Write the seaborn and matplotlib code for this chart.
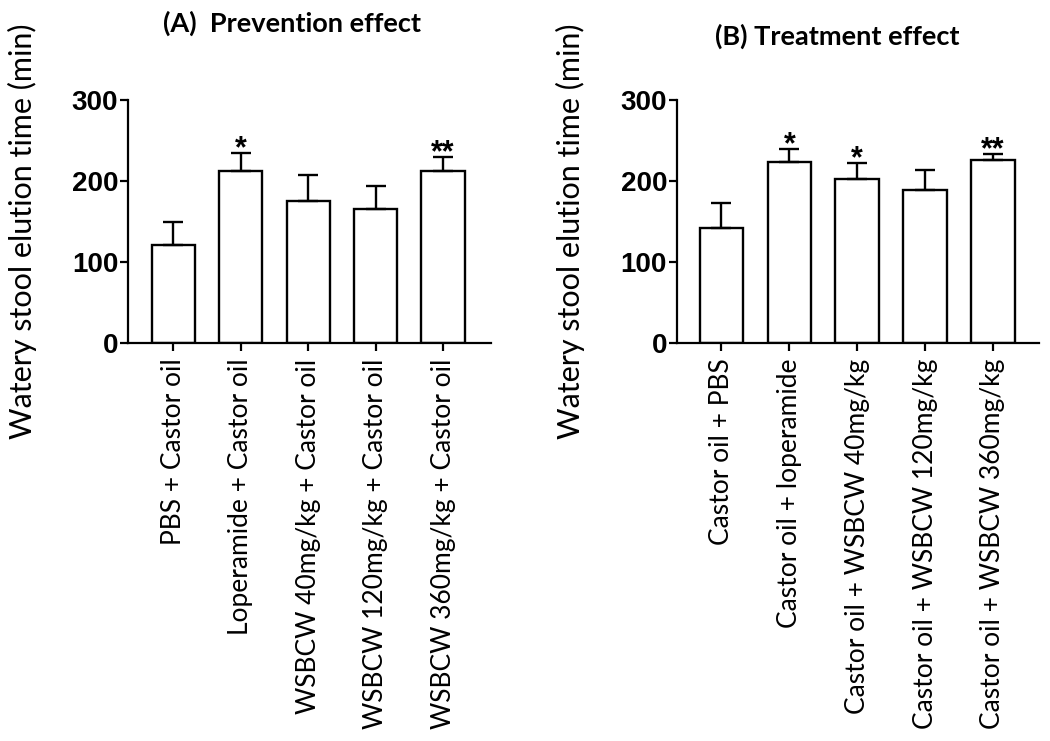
import matplotlib
matplotlib.use('Agg')
import matplotlib.pyplot as plt
import seaborn as sns
import pandas as pd
import numpy as np

# 数据
prev_labels = ['PBS + Castor oil', 'Loperamide + Castor oil', 'WSBCW 40mg/kg + Castor oil',
               'WSBCW 120mg/kg + Castor oil', 'WSBCW 360mg/kg + Castor oil']
prev_means = [121, 212, 176, 165, 213]
prev_err = [29, 22, 31, 29, 17]
prev_stars = ['', '*', '', '', '**']

treat_labels = ['Castor oil + PBS', 'Castor oil + loperamide', 'Castor oil + WSBCW 40mg/kg',
                'Castor oil + WSBCW 120mg/kg', 'Castor oil + WSBCW 360mg/kg']
treat_means = [142, 224, 203, 189, 226]
treat_err = [31, 15, 19, 25, 7]
treat_stars = ['', '*', '*', '', '**']

ylabel = 'Watery stool elution time (min)'

sns.set_style('ticks')
plt.rcParams['font.family'] = ['Lato', 'DejaVu Sans']
plt.rcParams['text.color'] = 'black'
plt.rcParams['xtick.color'] = 'black'
plt.rcParams['ytick.color'] = 'black'
plt.rcParams['axes.labelcolor'] = 'black'

fig = plt.figure(figsize=(10.5, 7.41), dpi=100)
ax_a = fig.add_axes([0.1219, 0.5367, 0.3457, 0.3284])
ax_b = fig.add_axes([0.6445, 0.5367, 0.3450, 0.3284])


def draw_panel(ax, labels, means, errs, stars, xlim):
    df = pd.DataFrame({'group': labels, 'value': means})
    sns.barplot(data=df, x='group', y='value', ax=ax, color='white',
                edgecolor='black', linewidth=1.7, width=0.64, errorbar=None)
    xs = np.arange(len(labels))
    ax.errorbar(xs, means, yerr=[np.zeros(len(errs)), errs], fmt='none',
                ecolor='black', elinewidth=1.7, capsize=7.5, capthick=1.7, zorder=1)
    for x, m, e, s in zip(xs, means, errs, stars):
        if s:
            ax.annotate(s, (x, m + e), xytext=(0, -3), textcoords='offset points',
                        ha='center', va='baseline', fontsize=22, fontweight='bold',
                        family='Liberation Sans')
    ax.set_ylim(0, 300)
    ax.set_xlim(*xlim)
    ax.set_yticks([0, 100, 200, 300])
    ax.set_xlabel('')
    ax.set_ylabel('')
    sns.despine(ax=ax)
    for sp in ['left', 'bottom']:
        ax.spines[sp].set_linewidth(1.6)
        ax.spines[sp].set_color('black')
    ax.tick_params(axis='both', width=1.6, length=6, color='black')
    ax.tick_params(axis='y', pad=1)
    ax.tick_params(axis='x', pad=5)
    ax.set_xticks(xs)
    ax.set_xticklabels(labels, rotation=90, fontsize=19, family='Lato')
    for t in ax.get_yticklabels():
        t.set_fontsize(20)
        t.set_fontweight('bold')
        t.set_family('Liberation Sans')


draw_panel(ax_a, prev_labels, prev_means, prev_err, prev_stars, (-0.67, 4.71))
draw_panel(ax_b, treat_labels, treat_means, treat_err, treat_stars, (-0.66, 4.68))

fig.text(22 / 1050, 1 - 231 / 741, ylabel, rotation=90, ha='center', va='center', fontsize=22)
fig.text(570 / 1050, 1 - 231 / 741, ylabel, rotation=90, ha='center', va='center', fontsize=22)

fig.text(292 / 1050, 1 - 23 / 741, '(A)  Prevention effect', ha='center', va='center',
         fontsize=19.5, fontweight='bold')
fig.text(837 / 1050, 1 - 36 / 741, '(B) Treatment effect', ha='center', va='center',
         fontsize=19.5, fontweight='bold')

fig.savefig('out.png', dpi=100)
